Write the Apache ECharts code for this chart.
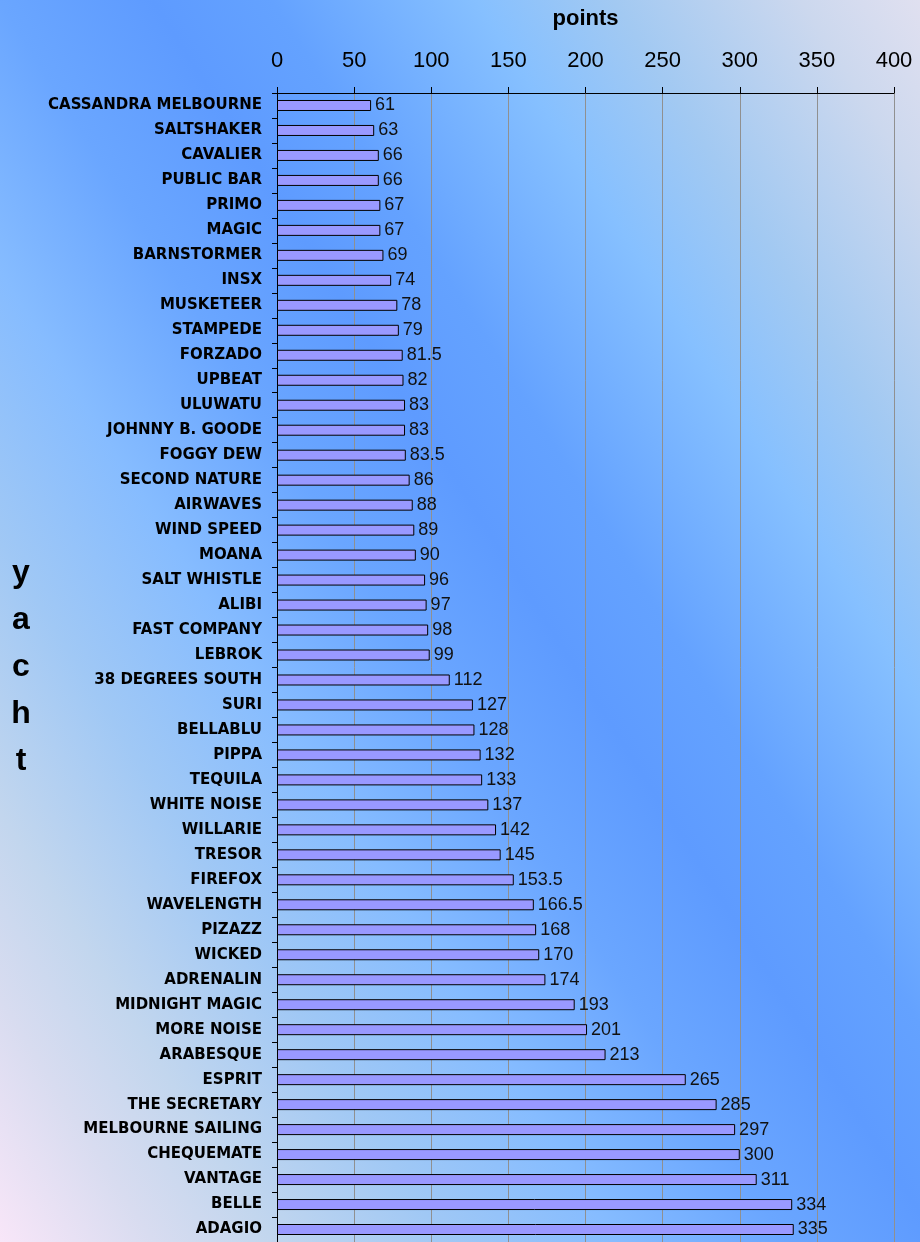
<!DOCTYPE html>
<html>
<head>
<meta charset="utf-8">
<script src="https://cdn.jsdelivr.net/npm/echarts@6/dist/echarts.min.js"></script>
<style>
  html, body { margin: 0; padding: 0; }
  #main { width: 920px; height: 1242px; }
</style>
</head>
<body>
<div id="main"></div>
<script>
// yachts, top to bottom as they appear
var yachts = ['CASSANDRA MELBOURNE', 'SALTSHAKER', 'CAVALIER', 'PUBLIC BAR', 'PRIMO', 'MAGIC',
  'BARNSTORMER', 'INSX', 'MUSKETEER', 'STAMPEDE', 'FORZADO', 'UPBEAT', 'ULUWATU',
  'JOHNNY B. GOODE', 'FOGGY DEW', 'SECOND NATURE', 'AIRWAVES', 'WIND SPEED', 'MOANA',
  'SALT WHISTLE', 'ALIBI', 'FAST COMPANY', 'LEBROK', '38 DEGREES SOUTH', 'SURI', 'BELLABLU',
  'PIPPA', 'TEQUILA', 'WHITE NOISE', 'WILLARIE', 'TRESOR', 'FIREFOX', 'WAVELENGTH', 'PIZAZZ',
  'WICKED', 'ADRENALIN', 'MIDNIGHT MAGIC', 'MORE NOISE', 'ARABESQUE', 'ESPRIT',
  'THE SECRETARY', 'MELBOURNE SAILING', 'CHEQUEMATE', 'VANTAGE', 'BELLE', 'ADAGIO'];
var points = [61, 63, 66, 66, 67, 67, 69, 74, 78, 79, 81.5, 82, 83, 83, 83.5, 86, 88, 89, 90,
  96, 97, 98, 99, 112, 127, 128, 132, 133, 137, 142, 145, 153.5, 166.5, 168, 170, 174, 193,
  201, 213, 265, 285, 297, 300, 311, 334, 335];

var myChart = echarts.init(document.getElementById('main'));

// diagonal background, pink bottom-left -> blue -> lavender top-right
var bg = {
  type: 'linear', global: true,
  x: 0, y: 1242, x2: 1218, y2: 471,
  colorStops: [
    { offset: 0, color: '#f8e6f8' },
    { offset: 0.09, color: '#d8dcf0' },
    { offset: 0.16, color: '#c2d6ee' },
    { offset: 0.26, color: '#a0c8f5' },
    { offset: 0.36, color: '#86bcff' },
    { offset: 0.46, color: '#6aa6ff' },
    { offset: 0.55, color: '#5e9bff' },
    { offset: 0.62, color: '#64a2ff' },
    { offset: 0.74, color: '#86c0ff' },
    { offset: 0.82, color: '#a2c9f2' },
    { offset: 0.93, color: '#ccd8ee' },
    { offset: 1, color: '#e0e0f0' }
  ]
};

myChart.setOption({
  backgroundColor: bg,
  animation: false,
  grid: { left: 277, right: 26, top: 93, bottom: 0, containLabel: false },
  xAxis: {
    type: 'value',
    position: 'top',
    min: 0, max: 400, interval: 50,
    name: 'points',
    nameLocation: 'middle',
    nameGap: 63,
    nameTextStyle: { fontFamily: 'Liberation Sans', fontWeight: 'bold', fontSize: 22, color: '#000' },
    axisLine: { show: true, lineStyle: { color: '#000', width: 1 } },
    axisTick: { show: true, length: 6, lineStyle: { color: '#000' } },
    axisLabel: { margin: 21, fontFamily: 'Liberation Sans', fontSize: 22, color: '#000' },
    splitLine: { show: true, lineStyle: { color: '#909090', width: 1 } }
  },
  yAxis: {
    type: 'category',
    inverse: true,
    data: yachts,
    name: 'y\na\nc\nh\nt',
    nameLocation: 'middle',
    nameGap: 256,
    nameRotate: 0,
    nameTextStyle: { fontFamily: 'Liberation Sans', fontWeight: 'bold', fontSize: 32, lineHeight: 47, color: '#000', align: 'center' },
    axisLine: { show: true, lineStyle: { color: '#000', width: 1 } },
    axisTick: { show: true, length: 5, lineStyle: { color: '#000' } },
    axisLabel: { margin: 15, fontFamily: 'DejaVu Sans', fontWeight: 'bold', fontSize: 15, color: '#000', interval: 0 }
  },
  series: [{
    type: 'bar',
    data: points,
    barWidth: 11,
    itemStyle: { color: '#9999ff', borderColor: '#000', borderWidth: 1 },
    label: { show: true, position: 'right', distance: 4, fontFamily: 'Liberation Sans', fontSize: 18, color: '#111' }
  }]
});
</script>
</body>
</html>
